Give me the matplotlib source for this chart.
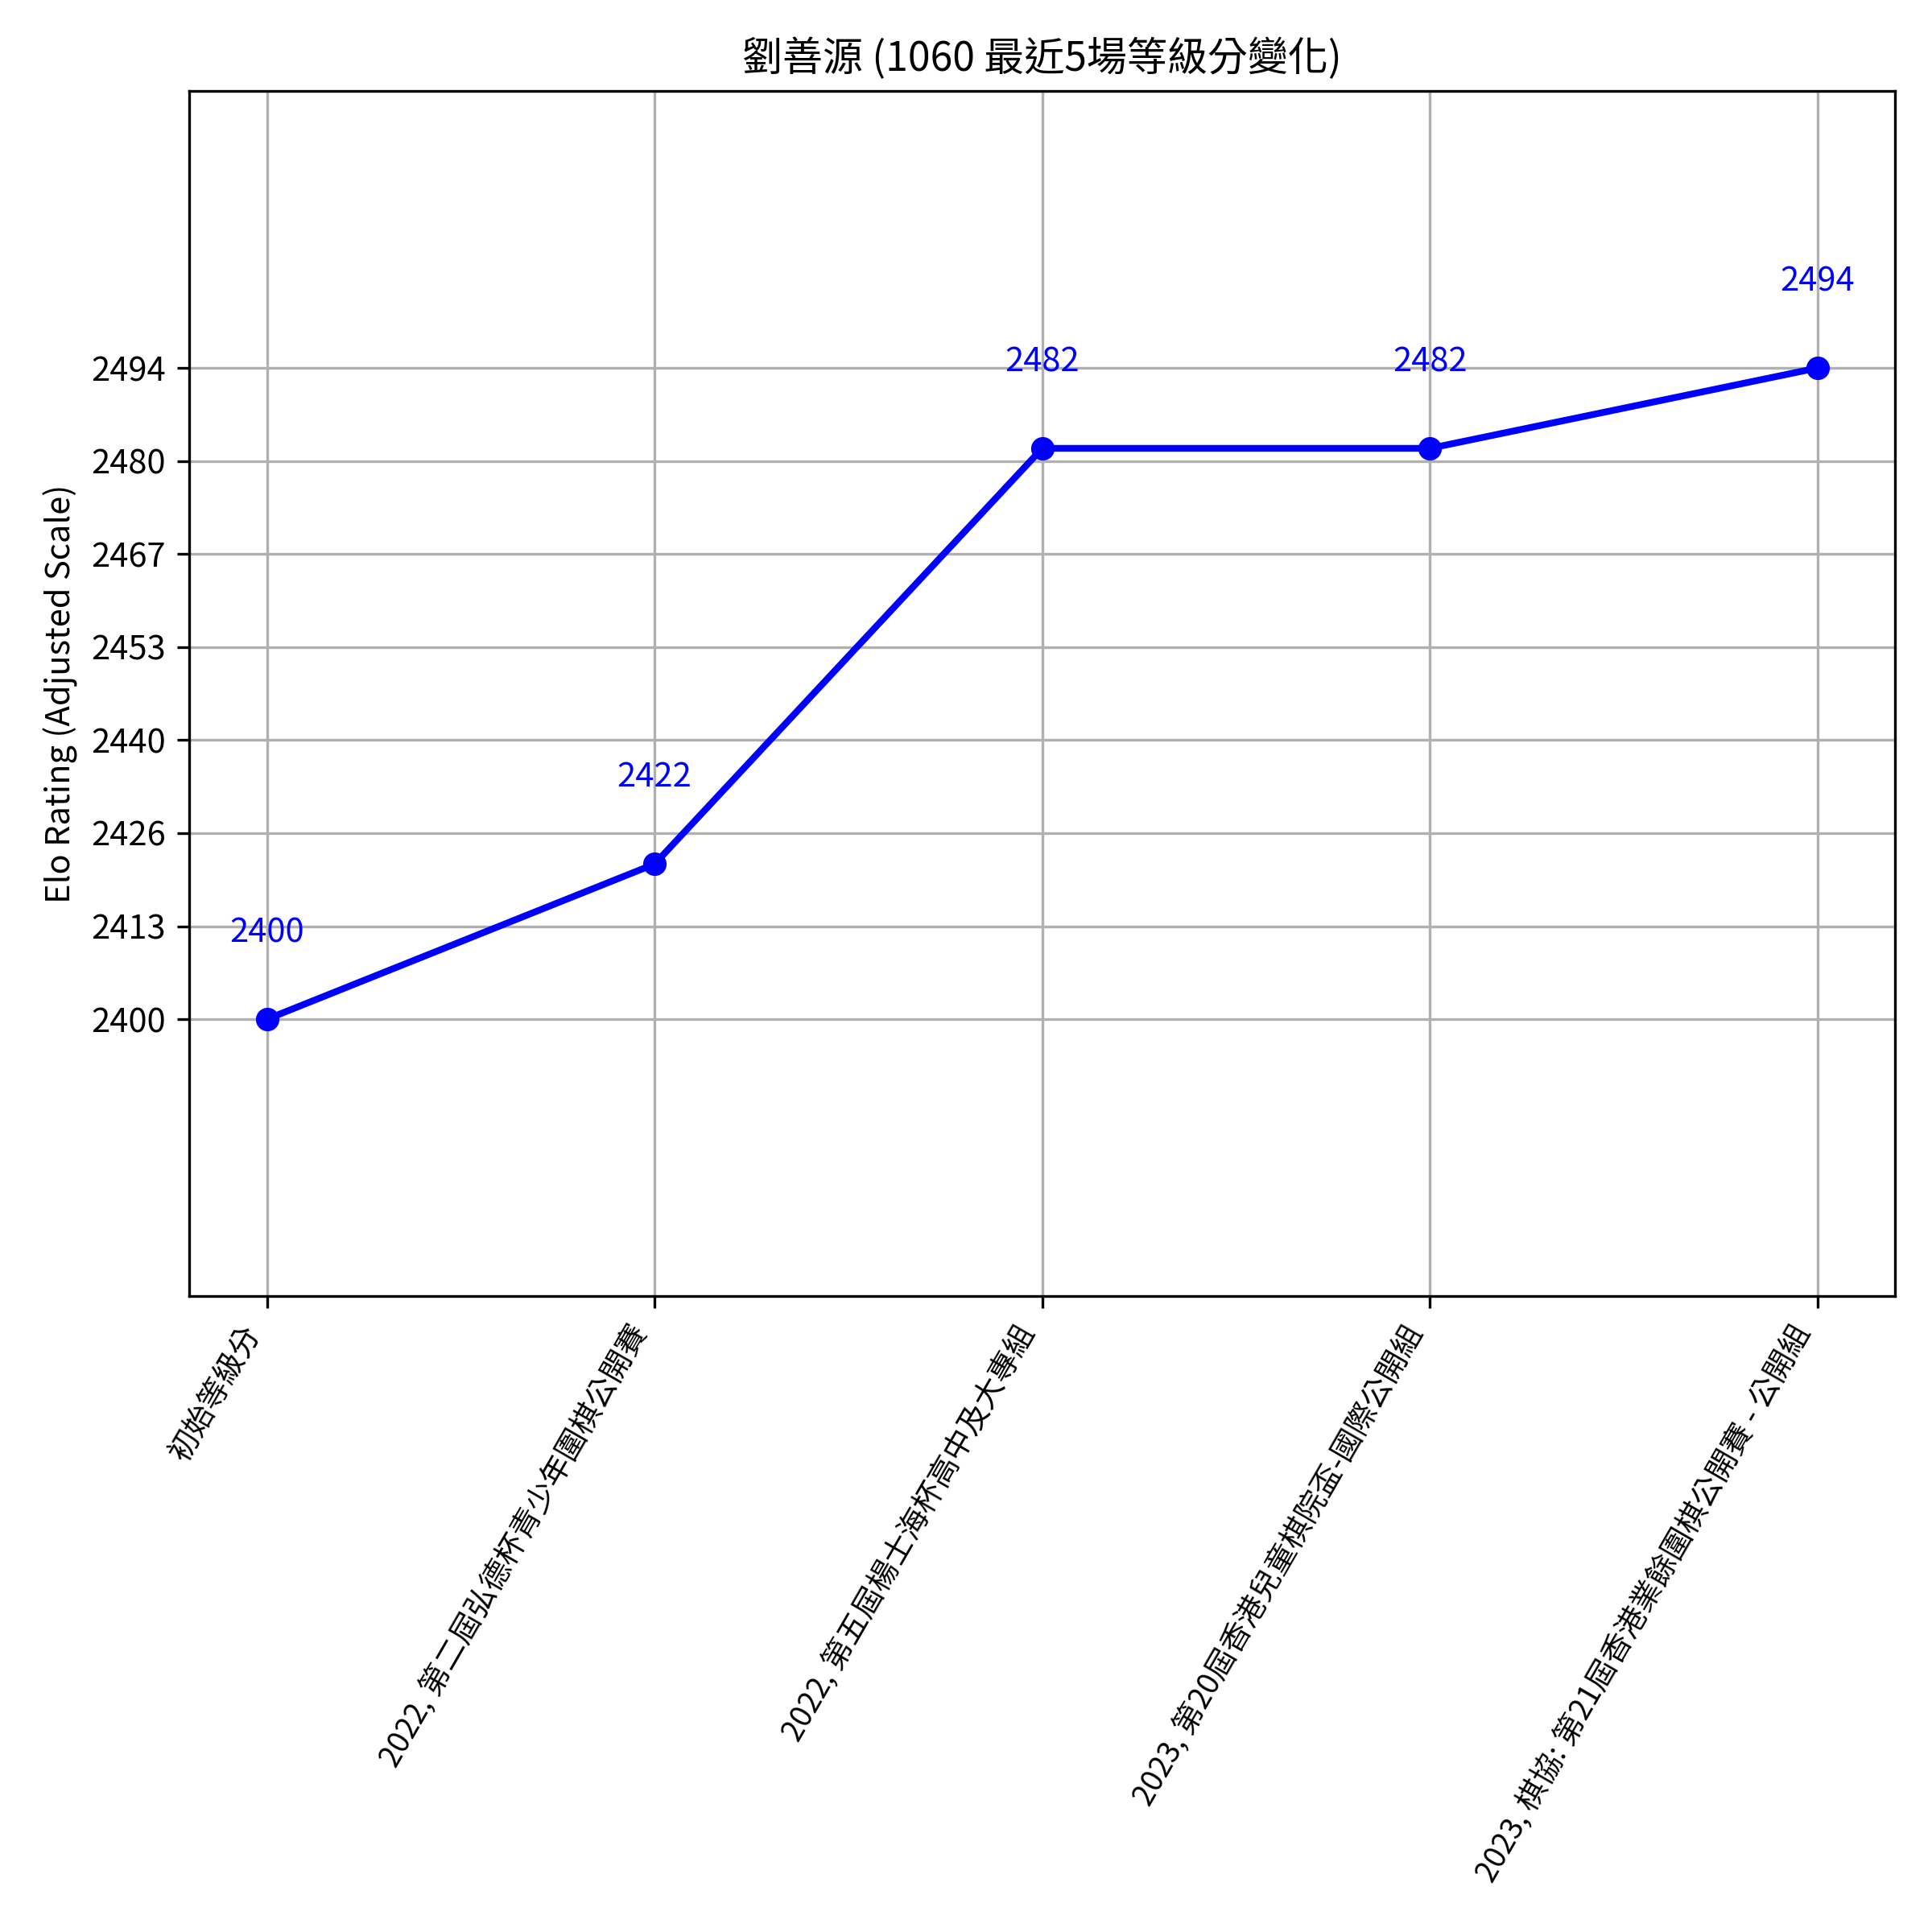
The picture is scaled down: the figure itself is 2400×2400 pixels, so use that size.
import matplotlib
matplotlib.use("Agg")
import matplotlib.pyplot as plt
import numpy as np

plt.rcParams['font.family'] = ['Noto Sans CJK TC', 'DejaVu Sans']

labels = ["初始等級分",
          "2022, 第二屆弘德杯青少年圍棋公開賽",
          "2022, 第五屆楊士海杯高中及大專組",
          "2023, 第20屆香港兒童棋院盃-國際公開組",
          "2023, 棋協: 第21屆香港業餘圍棋公開賽 - 公開組"]
ratings = [2400, 2422.4, 2482.4, 2482.4, 2494]
title = "劉善源 (1060 最近5場等級分變化)"

fig, ax = plt.subplots(figsize=(8, 8), dpi=300)
x = np.arange(len(labels))
ax.plot(x, ratings, color='blue', marker='o', linewidth=2, markersize=6)
for xi, r in zip(x, ratings):
    ax.annotate(f"{int(r)}", (xi, r), xytext=(0, 23), textcoords='offset points',
                ha='center', va='baseline', color='blue', fontsize=10)

yt = np.linspace(min(ratings), max(ratings), 8)
ax.set_yticks(yt)
ax.set_yticklabels([str(int(v)) for v in yt], fontsize=10)
ax.set_ylim(min(ratings) - 40, max(ratings) + 40)
ax.set_xticks(x)
ax.set_xticklabels(labels, rotation=60, ha='right', fontsize=9)
ax.set_ylabel("Elo Rating (Adjusted Scale)", fontsize=10)
ax.set_title(title, fontsize=12)
ax.grid(True)
fig.subplots_adjust(left=0.098, right=0.981, top=0.953, bottom=0.329)
fig.savefig("out.png", dpi=300)
